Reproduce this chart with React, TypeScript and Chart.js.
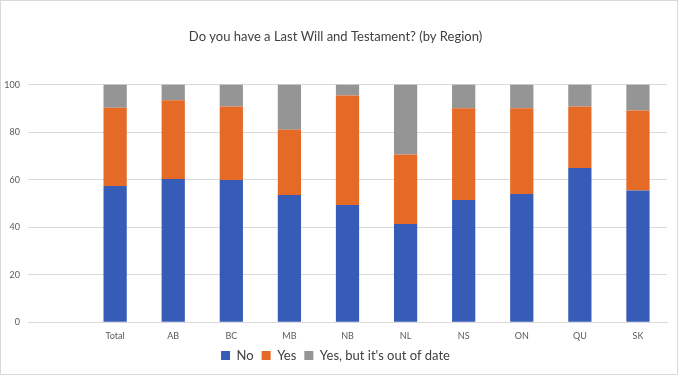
import React, { useEffect, useRef } from "react";
import { Chart, registerables } from "chart.js";

Chart.register(...registerables);

const categories = ["", "Total", "AB", "BC", "MB", "NB", "NL", "NS", "ON", "QU", "SK"];
const noValues = [null, 57.3, 60.3, 59.9, 53.5, 49.3, 41.3, 51.4, 54.0, 64.9, 55.4];
const yesValues = [null, 33.0, 33.1, 30.9, 27.5, 46.1, 29.3, 38.6, 36.0, 25.9, 33.7];
const outOfDateValues = [null, 9.7, 6.6, 9.2, 19.0, 4.6, 29.4, 10.0, 10.0, 9.2, 10.9];
const yTicks = [0, 20, 40, 60, 80, 100];

const FONT = "Lato, 'Liberation Sans', sans-serif";

export default function App() {
  const ref = useRef<HTMLCanvasElement>(null);
  useEffect(() => {
    document.body.style.margin = "0";
    const chart = new Chart(ref.current!, {
      type: "bar",
      data: {
        labels: categories,
        datasets: [
          { label: "No", data: noValues, backgroundColor: "#365cb8" },
          { label: "Yes", data: yesValues, backgroundColor: "#e56a26" },
          { label: "Yes, but it's out of date", data: outOfDateValues, backgroundColor: "#959595" },
        ],
      },
      options: {
        animation: false,
        responsive: false,
        maintainAspectRatio: false,
        layout: { padding: { left: 3, right: 10, top: 0, bottom: 2 } },
        datasets: { bar: { categoryPercentage: 1, barPercentage: 0.4 } },
        plugins: {
          title: {
            display: true,
            text: "Do you have a Last Will and Testament? (by Region)",
            color: "#404040",
            font: { family: FONT, size: 13, weight: "normal" },
            padding: { top: 28, bottom: 40 },
          },
          legend: {
            position: "bottom",
            labels: {
              boxWidth: 9,
              boxHeight: 9,
              color: "#404040",
              font: { family: FONT, size: 13 },
              padding: 8,
            },
          },
          tooltip: { enabled: false },
        },
        scales: {
          x: {
            stacked: true,
            grid: { display: false },
            border: { display: true, color: "#d9d9d9" },
            ticks: { color: "#595959", font: { family: FONT, size: 9 }, padding: 0 },
          },
          y: {
            stacked: true,
            min: 0,
            max: 100,
            afterBuildTicks: (axis: any) => {
              axis.ticks = yTicks.map((v) => ({ value: v }));
            },
            afterFit: (axis: any) => {
              axis.width = 24;
            },
            grid: { color: "#d9d9d9", drawTicks: false },
            border: { display: false },
            ticks: { color: "#595959", font: { family: FONT, size: 9 }, padding: 8 },
          },
        },
      },
    });
    return () => chart.destroy();
  }, []);
  return (
    <div style={{ width: 678, height: 375, boxSizing: "border-box", border: "1px solid #d9d9d9", position: "relative" }}>
      <canvas ref={ref} width={676} height={373} style={{ display: "block" }} />
    </div>
  );
}
